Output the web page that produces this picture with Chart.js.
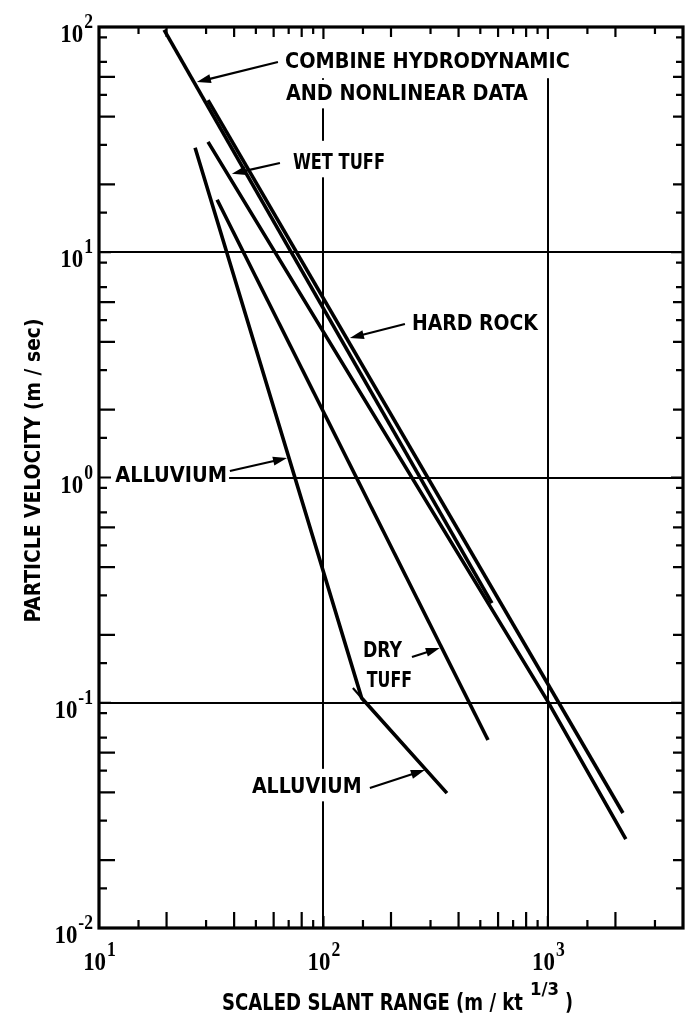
<!DOCTYPE html>
<html>
<head>
<meta charset="utf-8">
<script src="https://cdn.jsdelivr.net/npm/chart.js@4.4.0/dist/chart.umd.min.js"></script>
<style>
  html, body { margin: 0; padding: 0; background: #fff; }
</style>
</head>
<body>
<canvas id="chart" width="685" height="1015"></canvas>
<script>
'use strict';

// particle velocity (m/sec) against scaled slant range (m/kt^1/3)
var combineX = [19.5, 563];
var combineY = [97, 0.277];
var hardRockX = [30.6, 2160];
var hardRockY = [47.4, 0.0324];
var wetTuffX = [30.6, 990, 2225];
var wetTuffY = [30.9, 0.103, 0.0248];
var dryTuffX = [33.6, 541];
var dryTuffY = [17.1, 0.0683];
var alluviumX = [26.8, 148, 355];
var alluviumY = [29.1, 0.105, 0.0397];

// axis ticks
var xMajor = [10, 100, 1000];
var xExp = ['1', '2', '3'];
var yMajor = [0.01, 0.1, 1, 10, 100];
var yExp = ['-2', '-1', '0', '1', '2'];
var xMinor = [1.5, 2, 3, 4, 5, 6, 7, 8, 9];
var yMinor = [1.5, 2, 3, 4, 5, 6, 7, 9];

// labels on the plot (data coords), and their arrows
var notes = [
    { text: 'COMBINE HYDRODYNAMIC', x0: 67.4, x1: 1253, y: 71.4, pad: [6, 25, 8, 10] },
    { text: 'AND NONLINEAR DATA', x0: 68.1, x1: 815, y: 51.4, pad: [6, 4, 8, 8] },
    { text: 'WET TUFF', x0: 73.1, x1: 188, y: 25.4, pad: [6, 12, 6, 8] },
    { text: 'HARD ROCK', x0: 248, x1: 902, y: 4.9, pad: [6, 6, 6, 6] },
    { text: 'ALLUVIUM', x0: 11.8, x1: 37.2, y: 1.036, pad: [16, 6, 2, 6] },
    { text: 'DRY', x0: 150, x1: 224, y: 0.1733, pad: [4, 4, 4, 4] },
    { text: 'TUFF', x0: 156, x1: 248, y: 0.1274, pad: [4, 4, 4, 4] },
    { text: 'ALLUVIUM', x0: 48, x1: 148, y: 0.0431, pad: [6, 8, 6, 8] }
];
var arrows = [
    { from: [62.7, 69.9], to: [27.3, 57.0], head: true },
    { from: [64.0, 24.9], to: [39.1, 22.3], head: true },
    { from: [230.7, 4.80], to: [131.2, 4.16], head: true },
    { from: [38.3, 1.069], to: [68.8, 1.221], head: true },
    { from: [248, 0.1596], to: [330, 0.175], head: true },
    { from: [161, 0.0418], to: [283, 0.0503], head: true },
    { from: [135.3, 0.1163], to: [148, 0.105], head: false }
];

var sansFam = '"Liberation Sans Narrow", "DejaVu Sans Condensed", "Liberation Sans", sans-serif';
var labelFont = 'bold 22px ' + sansFam;
var numFont = 'bold 26px "Liberation Serif", "DejaVu Serif", serif';
var supFont = 'bold 22px "Liberation Serif", "DejaVu Serif", serif';
var capH = 16.5;

function zip(xs, ys) {
    return xs.map(function (x, i) { return { x: x, y: ys[i] }; });
}

function lineSet(label, xs, ys) {
    return {
        label: label,
        data: zip(xs, ys),
        borderColor: '#000',
        borderWidth: 3.6,
        pointRadius: 0,
        tension: 0,
        fill: false
    };
}

function fitText(ctx, str, left, right, baseline) {
    var w = ctx.measureText(str).width;
    ctx.save();
    ctx.translate(left, baseline);
    ctx.scale((right - left) / w, 1);
    ctx.fillText(str, 0, 0);
    ctx.restore();
}

function squeezed(ctx, str, x, baseline, sx) {
    ctx.save();
    ctx.translate(x, baseline);
    ctx.scale(sx, 1);
    ctx.fillText(str, 0, 0);
    ctx.restore();
}

function tickLabel(ctx, exp, x, baseline, align) {
    // "10" with a raised exponent
    ctx.font = numFont;
    var wBase = ctx.measureText('10').width * 0.88;
    ctx.font = supFont;
    var wSup = ctx.measureText(exp).width * 0.8;
    var left = align === 'right' ? x - wBase - wSup : x - (wBase + wSup) / 2;
    ctx.font = numFont;
    squeezed(ctx, '10', left, baseline, 0.88);
    ctx.font = supFont;
    squeezed(ctx, exp, left + wBase + 1, baseline - 14, 0.8);
}

var drawPlot = {
    id: 'drawPlot',
    beforeDatasetsDraw: function (chart) {
        var ctx = chart.ctx;
        var a = chart.chartArea;
        var sx = chart.scales.x, sy = chart.scales.y;
        ctx.save();
        ctx.strokeStyle = '#000';
        ctx.fillStyle = '#000';

        // major grid lines
        ctx.lineWidth = 2;
        xMajor.forEach(function (v) {
            if (v <= sx.min || v >= sx.max) return;
            var p = Math.round(sx.getPixelForValue(v));
            ctx.beginPath(); ctx.moveTo(p, a.top); ctx.lineTo(p, a.bottom); ctx.stroke();
        });
        yMajor.forEach(function (v) {
            if (v <= sy.min || v >= sy.max) return;
            var p = Math.round(sy.getPixelForValue(v));
            ctx.beginPath(); ctx.moveTo(a.left, p); ctx.lineTo(a.right, p); ctx.stroke();
        });

        // labels, with a white box that breaks the grid lines
        ctx.font = labelFont;
        notes.forEach(function (n) {
            var l = sx.getPixelForValue(n.x0), r = sx.getPixelForValue(n.x1);
            var c = sy.getPixelForValue(n.y);
            ctx.fillStyle = '#fff';
            ctx.fillRect(l - n.pad[0], c - capH / 2 - n.pad[1],
                r - l + n.pad[0] + n.pad[2], capH + n.pad[1] + n.pad[3]);
            ctx.fillStyle = '#000';
            fitText(ctx, n.text, l, r, c + capH / 2);
        });

        // arrows
        ctx.lineWidth = 2.2;
        arrows.forEach(function (ar) {
            var x0 = sx.getPixelForValue(ar.from[0]), y0 = sy.getPixelForValue(ar.from[1]);
            var x1 = sx.getPixelForValue(ar.to[0]), y1 = sy.getPixelForValue(ar.to[1]);
            var ang = Math.atan2(y1 - y0, x1 - x0);
            var hl = ar.head ? 14 : 0;
            ctx.beginPath();
            ctx.moveTo(x0, y0);
            ctx.lineTo(x1 - hl * Math.cos(ang) * 0.8, y1 - hl * Math.sin(ang) * 0.8);
            ctx.stroke();
            if (ar.head) {
                ctx.beginPath();
                ctx.moveTo(x1, y1);
                ctx.lineTo(x1 - hl * Math.cos(ang) + 4.5 * Math.sin(ang), y1 - hl * Math.sin(ang) - 4.5 * Math.cos(ang));
                ctx.lineTo(x1 - hl * Math.cos(ang) - 4.5 * Math.sin(ang), y1 - hl * Math.sin(ang) + 4.5 * Math.cos(ang));
                ctx.closePath();
                ctx.fill();
            }
        });

        // frame
        ctx.lineWidth = 3.2;
        ctx.strokeRect(a.left, a.top, a.right - a.left, a.bottom - a.top);

        // ticks, pointing inwards
        ctx.lineWidth = 2.2;
        xMajor.forEach(function (d) {
            var p = sx.getPixelForValue(d);
            if (d > sx.min && d < sx.max) {
                ctx.beginPath();
                ctx.moveTo(p, a.bottom); ctx.lineTo(p, a.bottom - 12);
                ctx.moveTo(p, a.top); ctx.lineTo(p, a.top + 12);
                ctx.stroke();
            }
            xMinor.forEach(function (m) {
                var v = d * m;
                if (v >= sx.max) return;
                var q = sx.getPixelForValue(v);
                var even = m % 2 === 0;
                ctx.beginPath();
                ctx.moveTo(q, a.bottom); ctx.lineTo(q, a.bottom - (even ? 16 : 8));
                ctx.moveTo(q, a.top); ctx.lineTo(q, a.top + (even ? 10 : 7));
                ctx.stroke();
            });
        });
        yMajor.forEach(function (d) {
            var p = sy.getPixelForValue(d);
            if (d > sy.min && d < sy.max) {
                ctx.beginPath();
                ctx.moveTo(a.left, p); ctx.lineTo(a.left + 12, p);
                ctx.moveTo(a.right, p); ctx.lineTo(a.right - 12, p);
                ctx.stroke();
            }
            if (d >= sy.max) return;
            yMinor.forEach(function (m) {
                var q = sy.getPixelForValue(d * m);
                var even = m % 2 === 0;
                ctx.beginPath();
                ctx.moveTo(a.left, q); ctx.lineTo(a.left + (even ? 16 : 8), q);
                ctx.moveTo(a.right, q); ctx.lineTo(a.right - (even ? 10 : 7), q);
                ctx.stroke();
            });
        });

        // tick labels
        yMajor.forEach(function (v, i) {
            tickLabel(ctx, yExp[i], a.left - 7, sy.getPixelForValue(v) + 15, 'right');
        });
        xMajor.forEach(function (v, i) {
            tickLabel(ctx, xExp[i], sx.getPixelForValue(v), a.bottom + 42, 'center');
        });

        // axis titles
        ctx.font = labelFont;
        var midY = (a.top + a.bottom) / 2 - 7;
        ctx.save();
        ctx.translate(a.left - 59, midY);
        ctx.rotate(-Math.PI / 2);
        fitText(ctx, 'PARTICLE VELOCITY (m / sec)', -152, 152, 0);
        ctx.restore();

        ctx.font = 'bold 23px ' + sansFam;
        fitText(ctx, 'SCALED SLANT RANGE (m / kt', a.left + 123, a.left + 424, a.bottom + 82);
        fitText(ctx, ')', a.left + 466, a.left + 474, a.bottom + 82);
        ctx.font = 'bold 17px ' + sansFam;
        fitText(ctx, '1/3', a.left + 431, a.left + 460, a.bottom + 67);

        ctx.restore();
    }
};

new Chart(document.getElementById('chart'), {
    type: 'line',
    data: {
        datasets: [
            lineSet('Combine hydrodynamic and nonlinear data', combineX, combineY),
            lineSet('Hard rock', hardRockX, hardRockY),
            lineSet('Wet tuff', wetTuffX, wetTuffY),
            lineSet('Dry tuff', dryTuffX, dryTuffY),
            lineSet('Alluvium', alluviumX, alluviumY)
        ]
    },
    options: {
        responsive: false,
        animation: false,
        layout: { padding: { left: 99, top: 27, right: 2, bottom: 87 } },
        plugins: { legend: { display: false }, tooltip: { enabled: false } },
        scales: {
            x: { type: 'logarithmic', min: 10, max: 4000, display: false },
            y: { type: 'logarithmic', min: 0.01, max: 100, display: false }
        }
    },
    plugins: [drawPlot]
});
</script>
</body>
</html>
